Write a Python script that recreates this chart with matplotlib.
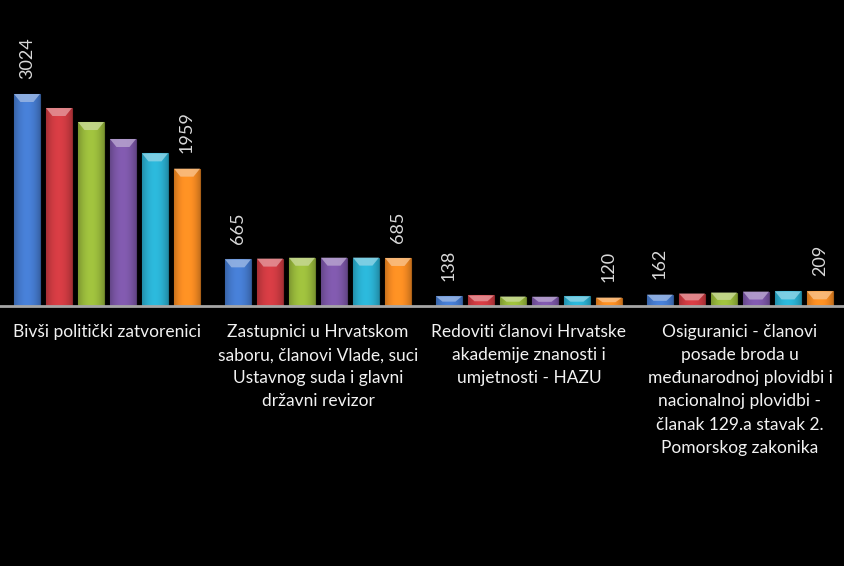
import matplotlib
matplotlib.use("Agg")
import matplotlib.pyplot as plt
import numpy as np
import matplotlib.colors as mcolors
from matplotlib.patches import Polygon

categories = [
    "Bivši politički zatvorenici",
    "Zastupnici u Hrvatskom\nsaboru, članovi Vlade, suci\nUstavnog suda i glavni\ndržavni revizor",
    "Redoviti članovi Hrvatske\nakademije znanosti i\numjetnosti - HAZU",
    "Osiguranici - članovi\nposade broda u\nmeđunarodnoj plovidbi i\nnacionalnoj plovidbi -\nčlanak 129.a stavak 2.\nPomorskog zakonika",
]
# six series
s1 = [3024, 665, 138, 162]
s2 = [2824, 676, 150, 178]
s3 = [2624, 688, 135, 192]
s4 = [2382, 689, 132, 205]
s5 = [2177, 690, 136, 208]
s6 = [1959, 685, 120, 209]
series = [s1, s2, s3, s4, s5, s6]
labeled = {0: s1, 5: s6}

colors = ["#4479cc", "#cc3a41", "#98b83b", "#7b56a6", "#2aaecf", "#f48a22"]

plt.rcParams['font.family'] = ['Lato', 'DejaVu Sans']
fig = plt.figure(figsize=(8.44, 5.66), dpi=100, facecolor="black")
ax = fig.add_axes([0.0, 0.4594, 1.0, 0.5406])
ax.set_facecolor("black")

pitch = 0.1517
width = 0.123
x = np.arange(len(categories))
grad_x = np.linspace(-1, 1, 64)
shade = 0.82 + 0.25 * (1 - grad_x ** 2)  # lighter in the middle

for j, (vals, c) in enumerate(zip(series, colors)):
    pos = x + (j - 2.5) * pitch
    base = np.array(mcolors.to_rgb(c))
    bars = ax.bar(pos, vals, width=width, color=c, edgecolor=tuple(base * 0.7),
                  linewidth=0.8, zorder=2)
    img = np.clip(base[None, None, :] * shade[None, :, None], 0, 1)
    light = tuple(np.clip(base + (1 - base) * 0.45, 0, 1))
    for rect, v in zip(bars.patches, vals):
        x0, w = rect.get_x(), rect.get_width()
        im = ax.imshow(img, extent=(x0, x0 + w, 0, v), aspect="auto", zorder=2.5,
                       interpolation="bilinear")
        im.set_clip_path(rect)
        h = min(114, 0.55 * v)
        bev = Polygon([(x0, v), (x0 + w, v), (x0 + w * 0.75, v - h), (x0 + w * 0.25, v - h)],
                      closed=True, facecolor=light, edgecolor="none", alpha=0.85, zorder=3)
        ax.add_patch(bev)
    if j in labeled:
        for p, v in zip(pos, vals):
            ax.annotate(str(v), (p, v), xytext=(0, 11), textcoords="offset points",
                        rotation=90, ha="center", va="bottom", color="#d9d9d9", fontsize=13)

ax.set_xlim(-0.507, 3.493)
ax.set_ylim(0, 4365)
for s in ["top", "right", "left"]:
    ax.spines[s].set_visible(False)
ax.spines["bottom"].set_color("#a6a6a6")
ax.spines["bottom"].set_linewidth(2)
ax.spines["bottom"].set_zorder(4)
ax.set_yticks([])
ax.set_xticks(x)
ax.set_xticklabels(categories, color="#f2f2f2", fontsize=12.5, linespacing=1.55)
ax.tick_params(axis="x", length=0, pad=13)

fig.savefig("out.png", dpi=100, facecolor="black")
